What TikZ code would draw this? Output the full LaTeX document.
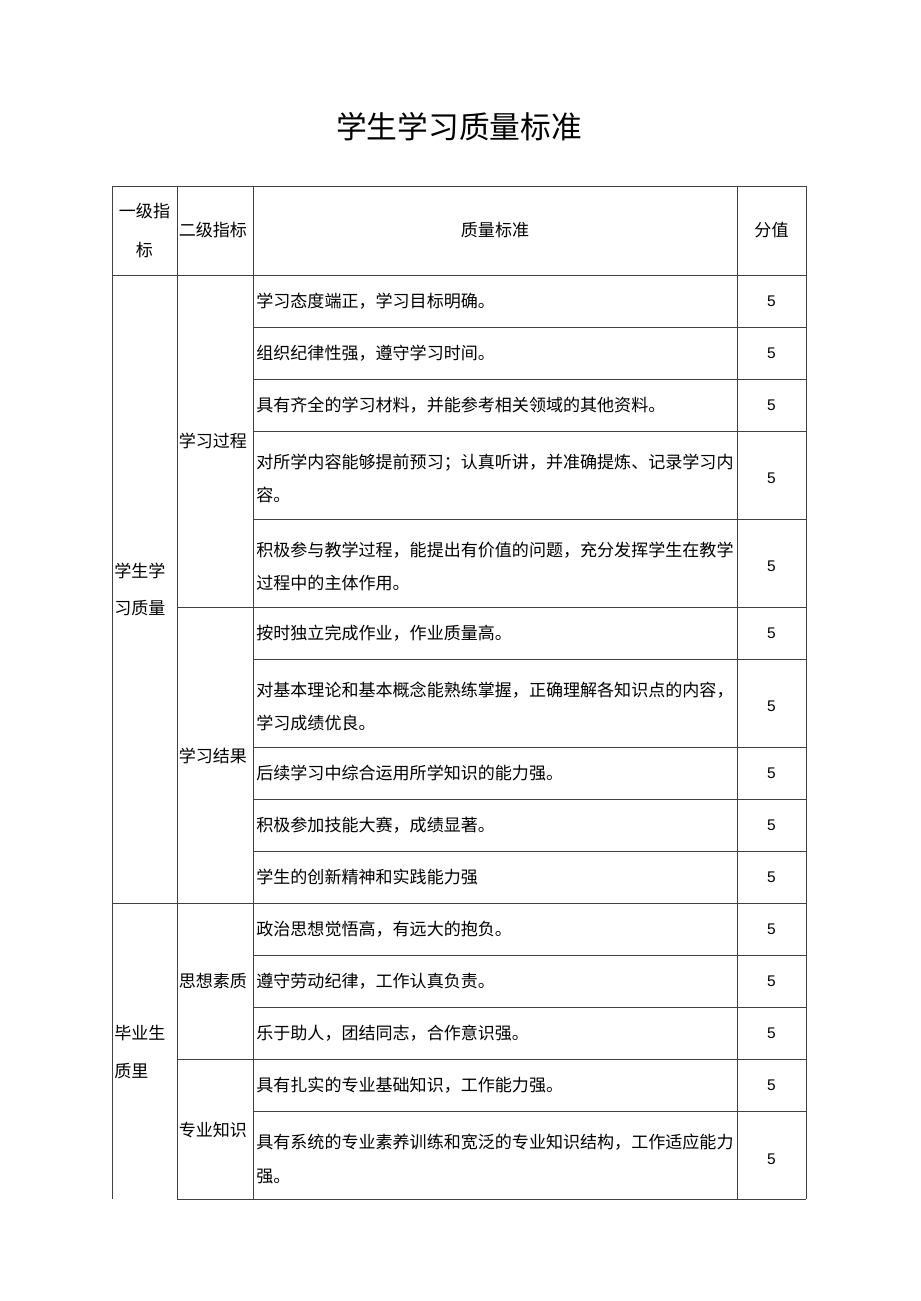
\documentclass[tikz,border=0pt]{standalone}
\usepackage{fontspec}
\usepackage{xcolor}
\newfontfamily\cjk{Noto Sans CJK SC}
\newfontfamily\numfont{Liberation Sans}

\begin{document}
\begin{tikzpicture}[x=0.02cm,y=-0.02cm,
    rule/.style={line width=0.5pt,black!75},
    body/.style={inner sep=0pt,anchor=west,align=left,font={\cjk\fontsize{9.7}{18.8}\selectfont}},
    head/.style={inner sep=0pt,align=center,font={\cjk\fontsize{9.7}{22}\selectfont}},
    score/.style={inner sep=0pt,font={\numfont\fontsize{8.8}{10}\selectfont}}]
        \useasboundingbox (0,0) rectangle (920,1301);
        % title
        \node[inner sep=0pt,font={\cjk\fontsize{17.5}{20}\selectfont}] (title) at (459,127) {学生学习质量标准};
        % table rules
        \foreach \yy in {186,275,903} \draw[rule] (112,\yy)--(806,\yy);
        \foreach \yy in {607,1059,1199} \draw[rule] (177,\yy)--(806,\yy);
        \foreach \yy in {327,379,431,519,659,747,799,851,955,1007,1111} \draw[rule] (253,\yy)--(806,\yy);
        \foreach \xx in {112,177,253,737,806} \draw[rule] (\xx,186)--(\xx,1199);
        % header
        \node[head] (h1) at (144.5,230.5) {一级指\\标};
        \node[head,anchor=west] (h2) at (178.5,230.5) {二级指标};
        \node[head] (h3) at (495,230.5) {质量标准};
        \node[head] (h4) at (771.5,230.5) {分值};
        % first and second level
        \node[body,font={\cjk\fontsize{9.7}{21}\selectfont}] (a1) at (114,589) {学生学\\习质量};
        \node[body,font={\cjk\fontsize{9.7}{22}\selectfont}] (a2) at (114,1052) {毕业生\\质里};
        \node[body] (b1) at (178.5,441) {学习过程};
        \node[body] (b2) at (178.5,756) {学习结果};
        \node[body] (b3) at (178.5,981) {思想素质};
        \node[body] (b4) at (178.5,1130) {专业知识};
        % standards and scores
        \foreach \yc/\txt [count=\i] in {
            301/{学习态度端正，学习目标明确。},
            353/{组织纪律性强，遵守学习时间。},
            405/{具有齐全的学习材料，并能参考相关领域的其他资料。},
            478/{对所学内容能够提前预习；认真听讲，并准确提炼、记录学习内\\容。},
            566/{积极参与教学过程，能提出有价值的问题，充分发挥学生在教学\\过程中的主体作用。},
            633/{按时独立完成作业，作业质量高。},
            706/{对基本理论和基本概念能熟练掌握，正确理解各知识点的内容，\\学习成绩优良。},
            773/{后续学习中综合运用所学知识的能力强。},
            825/{积极参加技能大赛，成绩显著。},
            877/{学生的创新精神和实践能力强},
            929/{政治思想觉悟高，有远大的抱负。},
            981/{遵守劳动纪律，工作认真负责。},
            1033/{乐于助人，团结同志，合作意识强。},
            1085/{具有扎实的专业基础知识，工作能力强。},
            1159/{具有系统的专业素养训练和宽泛的专业知识结构，工作适应能力\\强。}} {
            \node[body] (q\i) at (256,\yc) {\txt};
            \node[score] (v\i) at (771.5,\yc) {5};
        }
\end{tikzpicture}
\end{document}
